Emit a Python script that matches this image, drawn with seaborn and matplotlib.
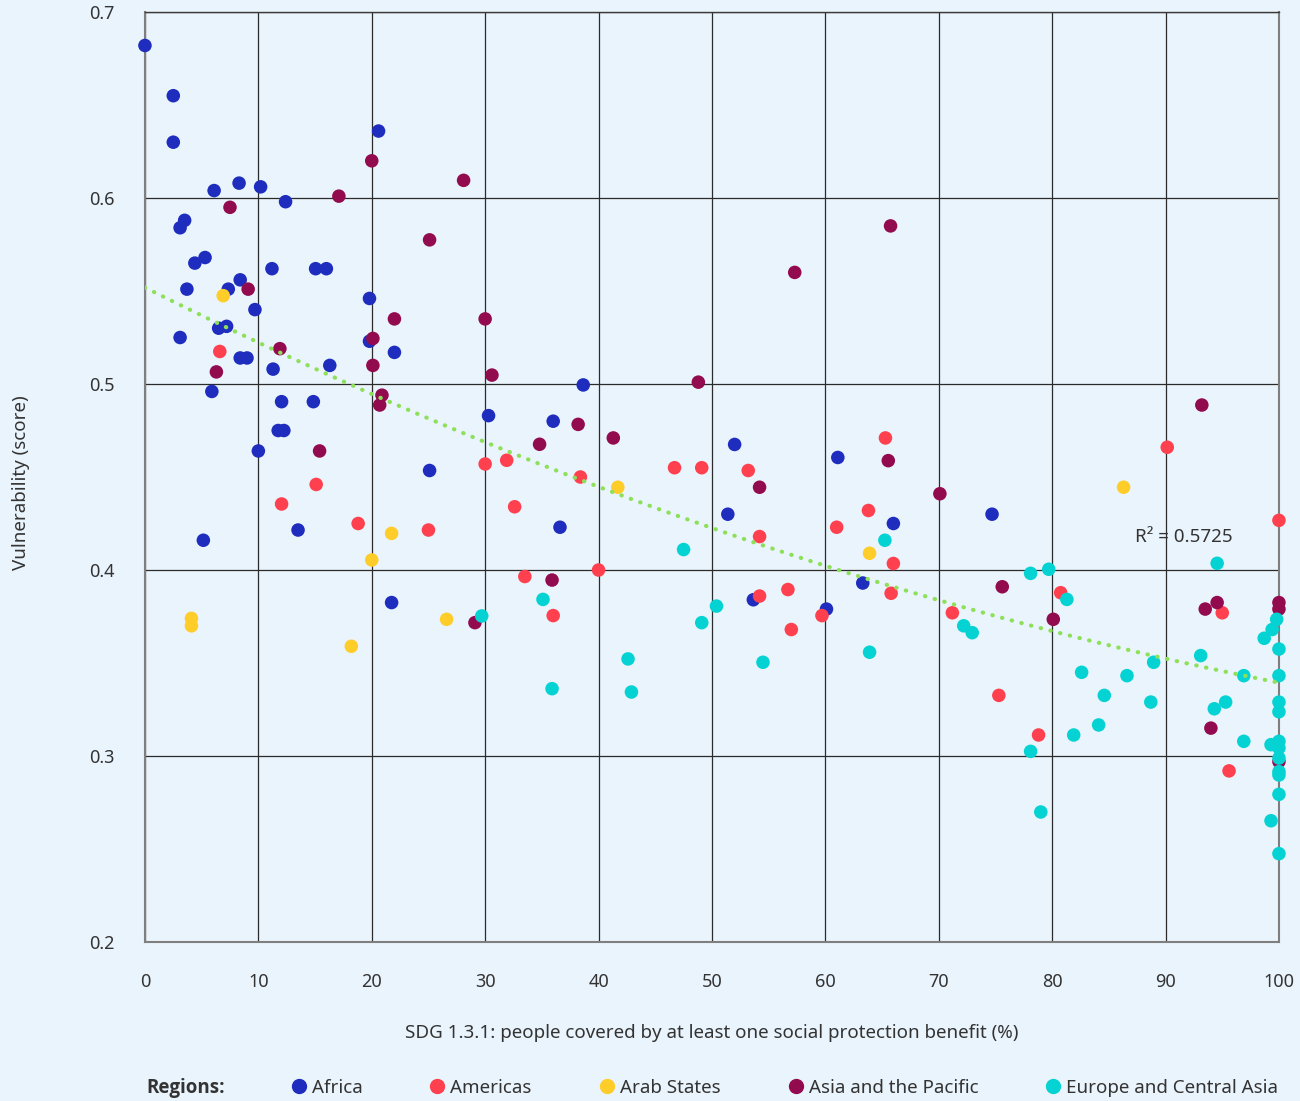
import numpy as np
import pandas as pd
import matplotlib
matplotlib.use("Agg")
import matplotlib.pyplot as plt
from matplotlib.lines import Line2D
import seaborn as sns

# Valores (cobertura %, vulnerabilidad)
africa_x = [0, 2.5, 2.5, 6.1, 8.3, 10.2, 12.4, 20.6, 3.5, 3.1, 5.3, 4.4, 11.2, 15.05, 16.0,
            3.7, 7.35, 8.4, 9.7, 19.8, 3.1, 6.5, 7.2, 8.4, 9.0, 11.3, 16.3, 19.8, 22.0, 5.9,
            12.05, 14.85, 30.3, 11.75, 12.25, 10.0, 25.1, 13.5, 5.15, 21.75, 38.65, 36.0,
            36.6, 52.0, 51.4, 61.1, 66.0, 53.65, 60.1, 63.3, 74.7]
africa_y = [0.682, 0.655, 0.630, 0.604, 0.608, 0.606, 0.598, 0.636, 0.588, 0.584, 0.568, 0.565,
            0.562, 0.562, 0.562, 0.551, 0.551, 0.556, 0.540, 0.546, 0.525, 0.530, 0.531, 0.514,
            0.514, 0.508, 0.510, 0.523, 0.517, 0.496, 0.4905, 0.4905, 0.483, 0.475, 0.475,
            0.464, 0.4535, 0.4215, 0.416, 0.3825, 0.4995, 0.480, 0.423, 0.4675, 0.430, 0.4605,
            0.425, 0.384, 0.379, 0.393, 0.430]

americas_x = [6.6, 30.0, 31.9, 15.1, 12.05, 32.6, 18.8, 25.0, 33.5, 38.4, 46.7, 49.1, 53.2,
              65.3, 54.2, 63.8, 61.0, 66.0, 40.0, 36.0, 54.2, 56.7, 57.0, 59.7, 65.8, 90.15,
              100, 80.75, 71.2, 95.0, 75.3, 78.8, 95.6]
americas_y = [0.5175, 0.457, 0.459, 0.446, 0.4355, 0.434, 0.425, 0.4215, 0.3965, 0.450, 0.455,
              0.455, 0.4535, 0.471, 0.418, 0.432, 0.423, 0.4035, 0.400, 0.3755, 0.386, 0.3895,
              0.368, 0.3755, 0.3875, 0.466, 0.4267, 0.3878, 0.377, 0.377, 0.3326, 0.3113, 0.292]

arab_x = [6.9, 21.75, 20.0, 4.1, 4.1, 26.6, 18.2, 41.7, 63.9, 86.3]
arab_y = [0.5475, 0.4197, 0.4054, 0.374, 0.370, 0.3735, 0.359, 0.4445, 0.409, 0.4445]

asia_x = [20.0, 28.1, 17.1, 7.5, 25.1, 9.1, 22.0, 30.0, 6.3, 11.9, 20.1, 20.1, 30.6, 20.9,
          20.7, 15.4, 29.1, 48.8, 38.2, 34.8, 41.3, 54.2, 65.55, 35.9, 57.3, 65.75, 93.2,
          70.1, 75.6, 80.1, 93.5, 94.55, 100, 100, 94.0, 100]
asia_y = [0.620, 0.6095, 0.601, 0.595, 0.5775, 0.551, 0.535, 0.535, 0.5065, 0.519, 0.5245,
          0.510, 0.5048, 0.494, 0.4887, 0.464, 0.3717, 0.501, 0.4783, 0.4676, 0.471, 0.4445,
          0.4588, 0.3946, 0.560, 0.585, 0.4887, 0.441, 0.391, 0.3735, 0.379, 0.3825, 0.3825,
          0.379, 0.315, 0.297]

europe_x = [29.7, 47.5, 65.25, 35.1, 50.4, 49.1, 42.6, 42.9, 35.9, 54.5, 63.9, 94.55, 78.1,
            79.7, 81.3, 72.2, 72.95, 99.8, 99.4, 98.7, 100, 93.1, 82.6, 86.6, 88.95, 96.9,
            100, 84.6, 88.7, 95.3, 94.3, 100, 100, 84.1, 81.9, 78.1, 96.9, 99.3, 100, 100,
            100, 100, 100, 100, 99.3, 100, 79.0]
europe_y = [0.3753, 0.411, 0.416, 0.3842, 0.3806, 0.3717, 0.3522, 0.3344, 0.3362, 0.3504,
            0.3558, 0.4036, 0.3982, 0.4004, 0.3842, 0.370, 0.3663, 0.3735, 0.368, 0.3633,
            0.3575, 0.354, 0.345, 0.3432, 0.3504, 0.3432, 0.3432, 0.3326, 0.329, 0.329,
            0.3254, 0.329, 0.3238, 0.3167, 0.3113, 0.3025, 0.3079, 0.3061, 0.3079, 0.3043,
            0.2989, 0.2916, 0.2898, 0.2794, 0.2652, 0.2475, 0.2699]

regions = ['Africa', 'Americas', 'Arab States', 'Asia and the Pacific', 'Europe and Central Asia']
colors = ['#1E2DBE', '#FF404F', '#FFCD2A', '#930B4F', '#05D3D3']
r2_label = 'R² = 0.5725'

df = pd.concat([
    pd.DataFrame({'x': africa_x, 'y': africa_y, 'Region': regions[0]}),
    pd.DataFrame({'x': americas_x, 'y': americas_y, 'Region': regions[1]}),
    pd.DataFrame({'x': arab_x, 'y': arab_y, 'Region': regions[2]}),
    pd.DataFrame({'x': asia_x, 'y': asia_y, 'Region': regions[3]}),
    pd.DataFrame({'x': europe_x, 'y': europe_y, 'Region': regions[4]}),
], ignore_index=True)

bg = '#EAF4FC'
txt = '#333333'
fs = 13.5

sns.set_theme(style="white")
plt.rcParams['font.family'] = ['Noto Sans', 'DejaVu Sans']

fig = plt.figure(figsize=(13, 11.01), dpi=100, facecolor=bg)
ax = fig.add_axes([0.1115, 0.1444, 0.8723, 0.8447])
ax.set_facecolor(bg)

sns.scatterplot(data=df, x='x', y='y', hue='Region', hue_order=regions,
                palette=dict(zip(regions, colors)), s=95, linewidth=0,
                legend=False, ax=ax, clip_on=False, zorder=3)

# Línea de tendencia (polinómica de grado 2)
coef = np.polyfit(df['x'], df['y'], 2)
xs = np.linspace(0, 100, 300)
ax.plot(xs, np.polyval(coef, xs), color='#8EE05A', lw=3,
        linestyle=(0, (0.1, 2.3)), dash_capstyle='round', zorder=4)
ax.text(87.3, 0.418, r2_label, fontsize=fs, color=txt, va='center', zorder=5)

ax.set_xlim(0, 100)
ax.set_ylim(0.2, 0.7)
ax.set_xticks(range(0, 101, 10))
ax.set_yticks([0.2, 0.3, 0.4, 0.5, 0.6, 0.7])
ax.set_yticklabels(['0.2', '0.3', '0.4', '0.5', '0.6', '0.7'])
ax.grid(True, color='#2b2b2b', lw=0.9)
ax.set_axisbelow(True)
ax.tick_params(length=0, pad=22, labelsize=13, labelcolor=txt)
for side in ['left', 'bottom', 'right']:
    ax.spines[side].set_color('#7f7f7f')
    ax.spines[side].set_linewidth(1.5)
ax.spines['top'].set_color('#3a3a3a')
ax.spines['top'].set_linewidth(1)

ax.set_xlabel('SDG 1.3.1: people covered by at least one social protection benefit (%)',
              fontsize=fs, color=txt)
ax.set_ylabel('Vulnerability (score)', fontsize=fs, color=txt)
ax.xaxis.set_label_coords(0.5, -0.088)
ax.yaxis.set_label_coords(-0.101, 0.494)

handles = [Line2D([], [], marker='o', ls='', color=c, markersize=10) for c in colors]
fig.text(146 / 1300, 0.0118, 'Regions:', fontsize=fs, fontweight='bold', color=txt,
         va='center', family=['Open Sans', 'DejaVu Sans'])
fig.legend(handles, regions, loc='center left', bbox_to_anchor=(291 / 1300, 0.0118),
           ncol=5, frameon=False, fontsize=fs, handlelength=0.8, handletextpad=0.3,
           columnspacing=3.6, borderpad=0, borderaxespad=0, labelcolor=txt)

fig.savefig('out.png', dpi=100, facecolor=bg)
